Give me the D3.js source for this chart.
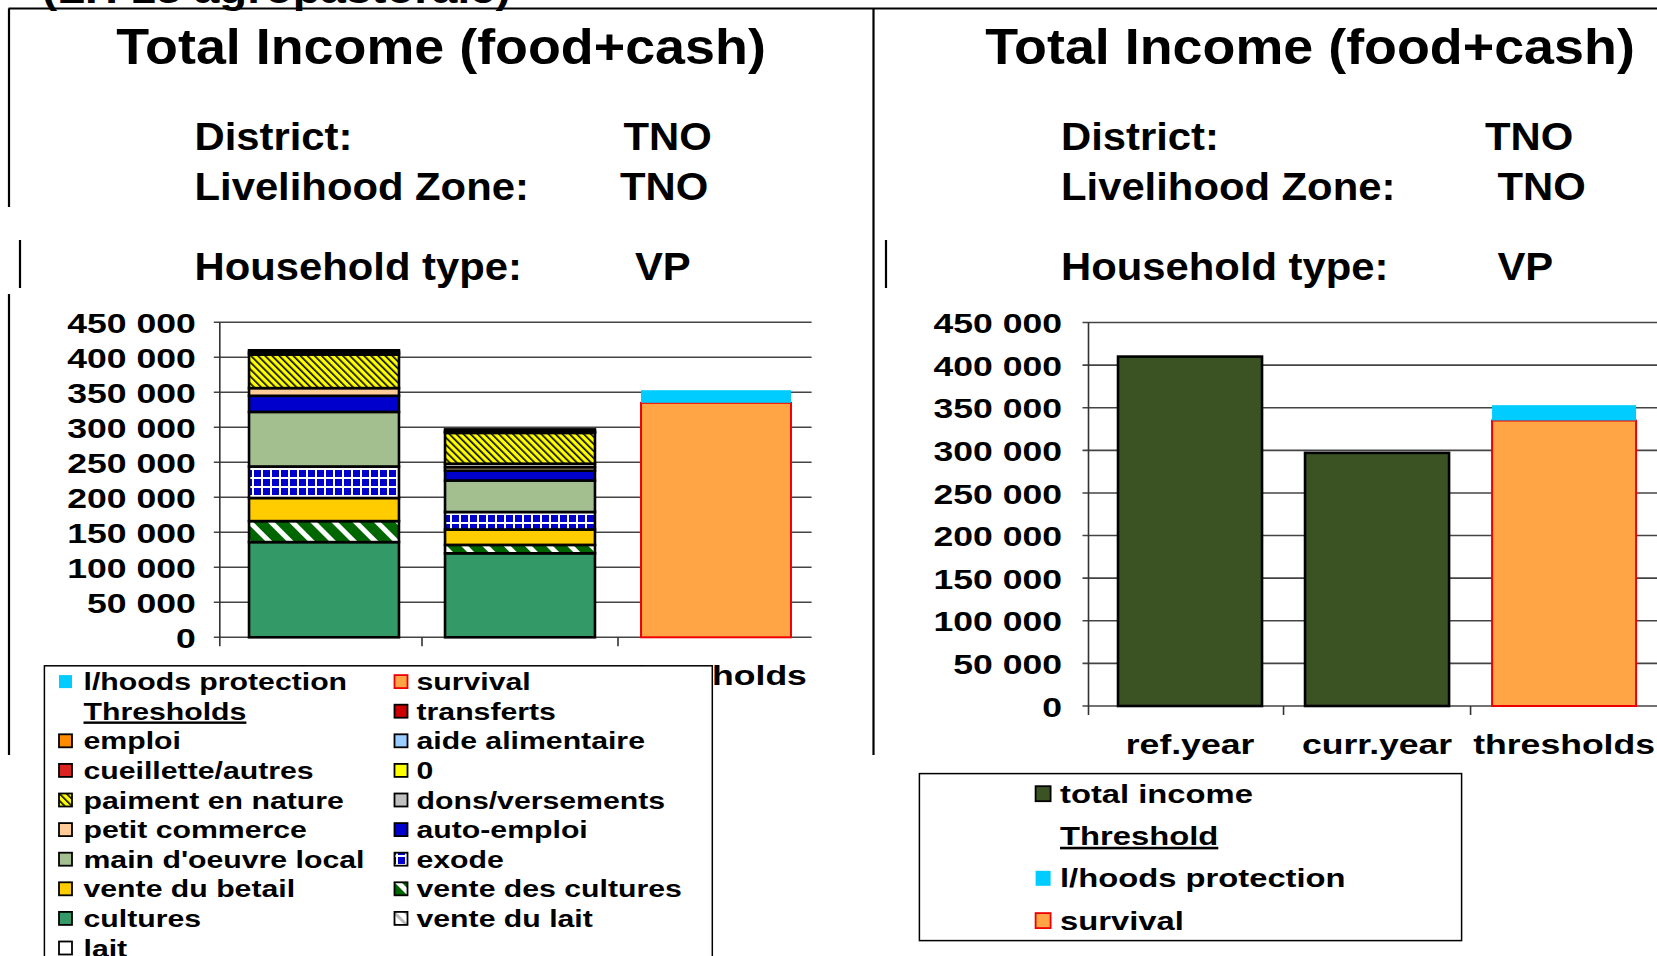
<!DOCTYPE html>
<html>
<head>
<meta charset="utf-8">
<script src="https://cdn.jsdelivr.net/npm/d3@7"></script>
<style>
body{margin:0;background:#fff;}
svg{display:block;font-family:"Liberation Sans",Arial,sans-serif;font-weight:bold;}
</style>
</head>
<body>
<script>
// ---- data ----
var categories = ["ref.year", "curr.year", "thresholds"];
// income sources, bottom of the stack first
var sources = ["lait", "vente du lait", "cultures", "vente des cultures", "vente du betail", "exode",
  "main d'oeuvre local", "auto-emploi", "petit commerce", "dons/versements", "paiment en nature", "0",
  "cueillette/autres", "aide alimentaire", "emploi", "transferts"];
var refYear  = [0, 0, 136000, 30000, 33000, 45000, 78000, 23000, 11000, 0, 48000, 0, 3000, 0, 0, 3000];
var currYear = [0, 0, 120000, 12000, 22000, 25000, 45000, 14000, 5000, 5000, 44000, 0, 2000, 0, 0, 3000];
var thresholdKeys = ["survival", "l/hoods protection"];
var thresholdValues = [335000, 18000];
var totalIncome = [410000, 297000];
var yTicks = [0, 50000, 100000, 150000, 200000, 250000, 300000, 350000, 400000, 450000];
var headerLabels = ["District:", "Livelihood Zone:", "Household type:"];
var headerValues = ["TNO", "TNO", "VP"];
var chartTitle = "Total Income (food+cash)";

var fills = {
  "lait": "#ffffff", "vente du lait": "url(#p-vlait)", "cultures": "#339966",
  "vente des cultures": "url(#p-vcult)", "vente du betail": "#FFCC00", "exode": "url(#p-exode)",
  "main d'oeuvre local": "#A3BF8F", "auto-emploi": "#0000CC", "petit commerce": "#FFCC99",
  "dons/versements": "#C0C0C0", "paiment en nature": "url(#p-nature)", "0": "#FFFF00",
  "cueillette/autres": "#DD2222", "aide alimentaire": "#99CCFF", "emploi": "#FF8C00",
  "transferts": "#CC0000", "survival": "#FFA545", "l/hoods protection": "#00CCFF",
  "total income": "#3B5323"
};

var W = 1657, H = 956;
var svg = d3.select("body").append("svg").attr("width", W).attr("height", H);
svg.append("rect").attr("width", W).attr("height", H).attr("fill", "#fff");

var fmt = d3.formatLocale({decimal: ",", thousands: " ", grouping: [3], currency: ["", ""]}).format(",");

// patterns
var defs = svg.append("defs");
function stripes(id, bg, fg, size, w) {
  var p = defs.append("pattern").attr("id", id).attr("patternUnits", "userSpaceOnUse")
    .attr("width", size).attr("height", size).attr("patternTransform", "rotate(-45)");
  p.append("rect").attr("width", size).attr("height", size).attr("fill", bg);
  p.append("rect").attr("width", w).attr("height", size).attr("fill", fg);
}
stripes("p-nature", "#FFFF00", "#000", 5, 1.6);
stripes("p-vcult", "#006600", "#fff", 15, 5);
stripes("p-vlait", "#fff", "#bbb", 8, 3);
var ex = defs.append("pattern").attr("id", "p-exode").attr("patternUnits", "userSpaceOnUse")
  .attr("width", 9).attr("height", 9);
ex.append("rect").attr("width", 9).attr("height", 9).attr("fill", "#0000CC");
ex.append("rect").attr("width", 2).attr("height", 9).attr("fill", "#fff");
ex.append("rect").attr("width", 9).attr("height", 2).attr("fill", "#fff");

function stretchText(g, txt, x, y, size, sx, anchor) {
  return g.append("text").attr("transform", "translate(" + x + "," + y + ") scale(" + sx + ",1)")
    .attr("font-size", size).attr("text-anchor", anchor || "start").text(txt);
}

// ---- sheet borders ----
var borders = svg.append("g").attr("stroke", "#000").attr("stroke-width", 2.2);
borders.append("line").attr("x1", 8.5).attr("x2", W).attr("y1", 8.5).attr("y2", 8.5);
[[9, 8.5, 207], [20, 240, 288], [9, 294, 755], [873.5, 8.5, 755], [886, 240, 288]].forEach(function(s) {
  borders.append("line").attr("x1", s[0]).attr("x2", s[0]).attr("y1", s[1]).attr("y2", s[2]);
});

// cut-off heading at the very top
stretchText(svg, "(LH 13 agropastorale)", 42, 3, 40, 1.14);

// ---- headers ----
[[441, 194.5], [1310, 1061]].forEach(function(h, k) {
  stretchText(svg, chartTitle, h[0], 64, 50, 1.077, "middle");
  var valX = k === 0 ? [623.5, 620, 635] : [1485, 1497.5, 1497.5];
  [150, 200, 280].forEach(function(by, i) {
    stretchText(svg, headerLabels[i], h[1], by, 38, 1.1);
    stretchText(svg, headerValues[i], valX[i], by, 38, 1.1);
  });
});

// ---- axes helper ----
function frame(x, y, axisX, gridRight, labelOff) {
  var g = svg.append("g");
  g.selectAll(".grid").data(yTicks).enter().append("line")
    .attr("x1", axisX - 6).attr("x2", gridRight)
    .attr("y1", function(d) { return y(d); }).attr("y2", function(d) { return y(d); })
    .attr("stroke", "#444").attr("stroke-width", 1.6);
  var ax = g.append("g").attr("transform", "translate(" + axisX + ",0)")
    .call(d3.axisLeft(y).tickValues(yTicks).tickFormat(fmt).tickSize(0).tickSizeOuter(0));
  ax.select(".domain").remove();
  ax.selectAll("text").attr("x", 0).attr("dy", "0.36em").attr("fill", "#000")
    .attr("font-family", "'Liberation Sans',Arial,sans-serif").attr("font-weight", "bold")
    .attr("font-size", 28).attr("transform", "translate(" + (-labelOff) + ",0) scale(1.27,1)");
  g.append("line").attr("x1", axisX).attr("x2", axisX).attr("y1", y.range()[1]).attr("y2", y.range()[0] + 9)
    .attr("stroke", "#333").attr("stroke-width", 1.6);
  // category boundary ticks between the bars
  d3.range(1, categories.length).forEach(function(i) {
    var bx = x.range()[0] + i * x.step();
    g.append("line").attr("x1", bx).attr("x2", bx).attr("y1", y.range()[0]).attr("y2", y.range()[0] + 9)
      .attr("stroke", "#333").attr("stroke-width", 1.6);
  });
  return g;
}

function drawStack(g, table, keys, x, y) {
  var stacked = d3.stack().keys(keys)(table);
  g.selectAll(".layer").data(stacked).enter().append("g")
    .each(function(layer) {
      var key = layer.key;
      d3.select(this).selectAll("rect").data(layer.filter(function(d) { return d[1] - d[0] > 0; }))
        .enter().append("rect")
        .attr("x", function(d) { return x(d.data.cat); })
        .attr("width", x.bandwidth())
        .attr("y", function(d) { return y(d[1]); })
        .attr("height", function(d) { return y(d[0]) - y(d[1]); })
        .attr("fill", fills[key])
        .attr("stroke", key === "survival" ? "#EE0000" : key === "l/hoods protection" ? "none" : "#000")
        .attr("stroke-width", key === "survival" ? 2 : 2.6);
    });
}

// ---- left chart: stacked sources ----
var xL = d3.scaleBand().domain(categories).range([226, 814]).paddingInner(0.235).paddingOuter(0.1175);
var yL = d3.scaleLinear().domain([0, 450000]).range([637.3, 322.3]);
var gL = frame(xL, yL, 219.8, 811.6, 24);

var tableL = categories.map(function(c, i) {
  var row = {cat: c};
  sources.forEach(function(s, j) { row[s] = i === 0 ? refYear[j] : i === 1 ? currYear[j] : 0; });
  thresholdKeys.forEach(function(k, j) { row[k] = i === 2 ? thresholdValues[j] : 0; });
  return row;
});
drawStack(gL, tableL, sources.concat(thresholdKeys), xL, yL);
categories.forEach(function(c) {
  stretchText(gL, c, xL(c) + xL.bandwidth() / 2, 685, 28, 1.27, "middle");
});

// ---- right chart: totals vs thresholds ----
var xR = d3.scaleBand().domain(categories).range([1096.5, 1657.6]).paddingInner(0.23).paddingOuter(0.115);
var yR = d3.scaleLinear().domain([0, 450000]).range([706, 322.5]);
var gR = frame(xR, yR, 1088.5, W, 26.5);
var tableR = categories.map(function(c, i) {
  var row = {cat: c};
  row["total income"] = i < 2 ? totalIncome[i] : 0;
  thresholdKeys.forEach(function(k, j) { row[k] = i === 2 ? thresholdValues[j] : 0; });
  return row;
});
drawStack(gR, tableR, ["total income"].concat(thresholdKeys), xR, yR);
categories.forEach(function(c) {
  stretchText(gR, c, xR(c) + xR.bandwidth() / 2, 754, 28, 1.27, "middle");
});

// ---- legends ----
function swatch(g, key, x, cy, s) {
  g.append("rect").attr("x", x).attr("y", cy - s / 2).attr("width", s).attr("height", s)
    .attr("fill", fills[key])
    .attr("stroke", key === "l/hoods protection" ? "none" : key === "survival" ? "#EE0000" : "#000")
    .attr("stroke-width", 1.8);
}
var legL = svg.append("g");
legL.append("rect").attr("x", 44.4).attr("y", 665.8).attr("width", 667.9).attr("height", 330)
  .attr("fill", "#fff").attr("stroke", "#000").attr("stroke-width", 1.5);
var leftItems = thresholdKeys.slice().reverse().concat(["Thresholds"]).concat(sources.slice().reverse());
leftItems.forEach(function(key, i) {
  var col = i % 2, row = Math.floor(i / 2);
  var cy = 681.6 + row * 29.6;
  var sx = col === 0 ? 59 : 394.5, tx = col === 0 ? 83.5 : 416.5;
  if (key !== "Thresholds") swatch(legL, key, sx, cy, 13);
  var t = stretchText(legL, key, tx, cy + 8.5, 24, 1.26);
  if (key === "Thresholds") t.attr("text-decoration", "underline");
});

var legR = svg.append("g");
legR.append("rect").attr("x", 919.4).attr("y", 773.6).attr("width", 542.2).attr("height", 167)
  .attr("fill", "#fff").attr("stroke", "#000").attr("stroke-width", 1.5);
["total income", "Threshold", "l/hoods protection", "survival"].forEach(function(key, i) {
  var cy = 793.7 + i * 42.3;
  if (key !== "Threshold") swatch(legR, key, 1035.6, cy, 15);
  var t = stretchText(legR, key, 1060, cy + 9, 26, 1.26);
  if (key === "Threshold") t.attr("text-decoration", "underline");
});
</script>
</body>
</html>
